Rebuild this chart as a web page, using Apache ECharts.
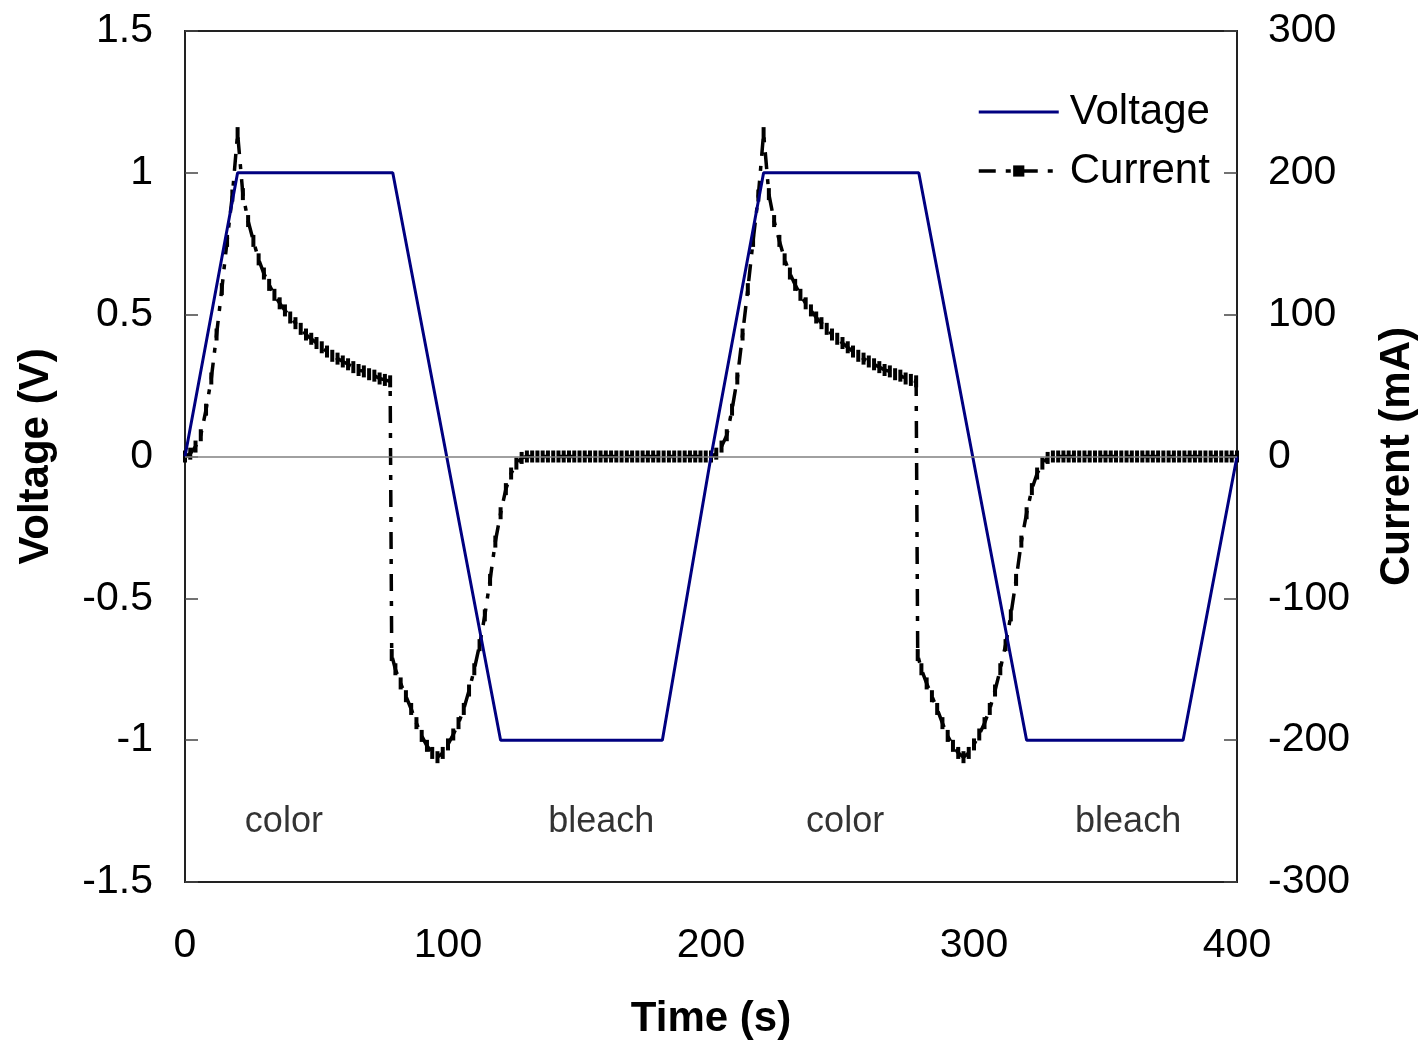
<!DOCTYPE html>
<html>
<head>
<meta charset="utf-8">
<script src="https://cdn.jsdelivr.net/npm/echarts@6/dist/echarts.min.js"></script>
<style>html,body{margin:0;padding:0;background:#fff}#chart{width:1422px;height:1042px}</style>
</head>
<body>
<div id="chart"></div>
<script>
// voltage ramp corners [time s, V]
var voltagePoints = [[0, 0], [20, 1], [79, 1], [120, -1], [181.5, -1], [200, 0],
    [220, 1], [279, 1], [320, -1], [379.5, -1], [400, 0]];

// measured current [time s, mA]
var currentPoints = [
    [0,0],[2,2],[4,7],[6,15],[8,33],[10,55],[12,86],[14,118],[16,152],[18,184],[20,228],
    [22,185],[24,166],[26,152],[28,139],[30,129],[32,121],[34,114],[36,108],[38,103],[40,98],
    [42,94],[44,90],[46,86],[48,83],[50,80],[52,77],[54,74],[56,71],[58,69],[60,67],
    [62,65],[64,63],[66,61],[68,60],[70,58],[72,57],[74,55],[76,54],[78,53],[78.6,-140],
    [80,-150],[82,-160],[84,-169],[86,-178],[88,-188],[90,-197],[92,-204],[94,-209],[96,-212],[98,-209],
    [100,-203],[102,-196],[104,-188],[106,-178],[108,-165],[110,-150],[112,-133],[114,-112],[116,-87],[118,-60],
    [120,-40],[122,-23],[124,-12],[126,-5],[128,-1],[130,0],[132,0],[134,0],[136,0],[138,0],
    [140,0],[142,0],[144,0],[146,0],[148,0],[150,0],[152,0],[154,0],[156,0],[158,0],
    [160,0],[162,0],[164,0],[166,0],[168,0],[170,0],[172,0],[174,0],[176,0],[178,0],
    [180,0],[182,0],[184,0],[186,0],[188,0],[190,0],[192,0],[194,0],[196,0],[198,0],
    [200,0],[202,2],[204,7],[206,15],[208,33],[210,55],[212,86],[214,118],[216,152],[218,184],[220,228],
    [222,185],[224,166],[226,152],[228,139],[230,129],[232,121],[234,114],[236,108],[238,103],[240,98],
    [242,94],[244,90],[246,86],[248,83],[250,80],[252,77],[254,74],[256,71],[258,69],[260,67],
    [262,65],[264,63],[266,61],[268,60],[270,58],[272,57],[274,55],[276,54],[278,53],[278.6,-140],
    [280,-150],[282,-160],[284,-169],[286,-178],[288,-188],[290,-197],[292,-204],[294,-209],[296,-212],[298,-209],
    [300,-203],[302,-196],[304,-188],[306,-178],[308,-165],[310,-150],[312,-133],[314,-112],[316,-87],[318,-60],
    [320,-40],[322,-23],[324,-12],[326,-5],[328,-1],[330,0],[332,0],[334,0],[336,0],[338,0],
    [340,0],[342,0],[344,0],[346,0],[348,0],[350,0],[352,0],[354,0],[356,0],[358,0],
    [360,0],[362,0],[364,0],[366,0],[368,0],[370,0],[372,0],[374,0],[376,0],[378,0],
    [380,0],[382,0],[384,0],[386,0],[388,0],[390,0],[392,0],[394,0],[396,0],[398,0],[400,0]
];

// phase labels
var noteTexts = ['color', 'bleach', 'color', 'bleach'];
var noteTimes = [37.6, 158.3, 251, 358.6];
var noteLevel = -1.29;

var font = 'Liberation Sans, Arial, sans-serif';
var notes = noteTexts.map(function (s, i) {
    return {name: s, value: [noteTimes[i], noteLevel]};
});

// thin vertical bar used as the current marker
var barMark = 'path://M0,0 L1,0 L1,3 L0,3 Z';

var chart = echarts.init(document.getElementById('chart'));
var option = {
    animation: false,
    textStyle: {fontFamily: font},
    grid: {left: 185, right: 185, top: 31, bottom: 160, show: true, borderColor: '#222', borderWidth: 2,
        containLabel: false, outerBoundsMode: 'none'},
    legend: {
        data: [
            {name: 'Voltage', itemStyle: {opacity: 0}, lineStyle: {width: 3}},
            {name: 'Current', lineStyle: {width: 3.5}}
        ],
        orient: 'vertical',
        left: 977, top: 91, padding: 0,
        itemWidth: 80, itemHeight: 14, itemGap: 17,
        symbolKeepAspect: true,
        textStyle: {fontSize: 42, color: '#000', fontFamily: font, padding: [0, 0, 0, 6]}
    },
    xAxis: {
        type: 'value', min: 0, max: 400, interval: 100,
        name: 'Time (s)', nameLocation: 'middle', nameGap: 116,
        nameTextStyle: {fontSize: 42, fontWeight: 'bold', color: '#000'},
        axisLine: {show: false}, axisTick: {show: false}, splitLine: {show: false},
        axisLabel: {fontSize: 41, color: '#000', margin: 43}
    },
    yAxis: [{
        type: 'value', min: -1.5, max: 1.5, interval: 0.5,
        name: 'Voltage (V)', nameLocation: 'middle', nameGap: 128, nameRotate: 90,
        nameTextStyle: {fontSize: 42, fontWeight: 'bold', color: '#000'},
        axisLine: {show: false}, splitLine: {show: false},
        axisTick: {show: true, inside: true, length: 13, lineStyle: {color: '#444', width: 1.5}},
        axisLabel: {fontSize: 41, color: '#000', margin: 32, padding: [8, 0, 0, 0]}
    }, {
        type: 'value', min: -300, max: 300, interval: 100, position: 'right',
        name: 'Current (mA)', nameLocation: 'middle', nameGap: 139, nameRotate: 90,
        nameTextStyle: {fontSize: 42, fontWeight: 'bold', color: '#000'},
        axisLine: {show: false}, splitLine: {show: false},
        axisTick: {show: true, inside: true, length: 13, lineStyle: {color: '#444', width: 1.5}},
        axisLabel: {fontSize: 41, color: '#000', margin: 31, padding: [8, 0, 0, 0]}
    }],
    series: [{
        name: 'Current', type: 'line', yAxisIndex: 1, data: currentPoints,
        symbol: barMark, symbolSize: [4, 12], showSymbol: true, showAllSymbol: true,
        itemStyle: {color: '#000'},
        lineStyle: {color: '#000', width: 3.5, type: [17, 10, 5, 10]},
        z: 2
    }, {
        name: 'Voltage', type: 'line', yAxisIndex: 0, data: voltagePoints,
        showSymbol: false,
        lineStyle: {color: '#000080', width: 3},
        itemStyle: {color: '#000080'},
        z: 3,
        markLine: {
            silent: true, symbol: 'none', label: {show: false},
            lineStyle: {color: '#808080', width: 1.5, type: 'solid'},
            data: [{yAxis: 0}]
        }
    }, {
        name: 'notes', type: 'scatter', yAxisIndex: 0, data: notes,
        symbolSize: 0, silent: true,
        label: {show: true, position: 'inside', formatter: '{b}', fontSize: 36, color: '#000', fontFamily: font}
    }]
};
chart.setOption(option);
</script>
</body>
</html>
